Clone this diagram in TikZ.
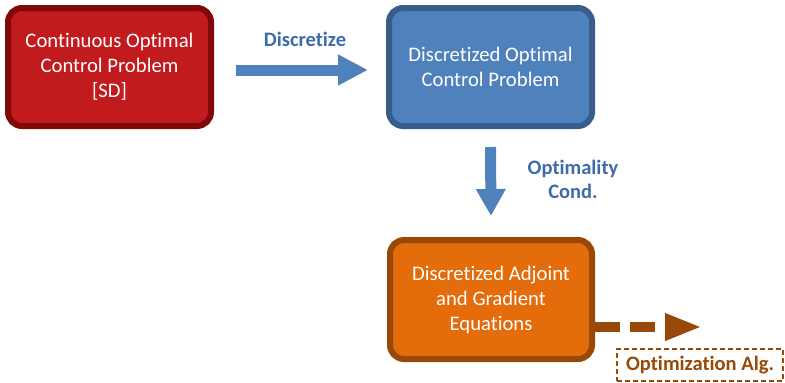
\documentclass[tikz,border=0pt]{standalone}
\usepackage{fontspec}
\setmainfont{Carlito}[Ligatures={NoCommon}]
\usetikzlibrary{arrows.meta}
\definecolor{redfill}{RGB}{194,27,30}
\definecolor{redline}{RGB}{128,8,8}
\definecolor{bluefill}{RGB}{79,129,189}
\definecolor{blueline}{RGB}{56,93,138}
\definecolor{orangefill}{RGB}{228,108,10}
\definecolor{orangeline}{RGB}{152,72,7}
\definecolor{bluetext}{RGB}{62,108,168}
\begin{document}
\begin{tikzpicture}[x=1pt,y=-1pt,
  box/.style={draw, line width=6pt, rounded corners=14pt, text=white, align=center,
    font=\fontsize{20.7}{25}\selectfont, inner sep=0pt},
  lbl/.style={text=bluetext, font=\bfseries\fontsize{20.5}{24}\selectfont, align=center, inner sep=0pt},
  bluearrow/.style={draw=bluefill, line width=11pt},
  brownarrow/.style={draw=orangeline, line width=10pt, dash pattern=on 25pt off 10pt}
]
\useasboundingbox (0,0) rectangle (785,383);
\node[box, fill=redfill, draw=redline, minimum width=203pt, minimum height=118pt] (cont) at (109.5,67)
  {Continuous Optimal\\Control Problem\\{}[SD]};
\node[box, fill=bluefill, draw=blueline, minimum width=203pt, minimum height=118pt] (disc) at (490.5,67)
  {Discretized Optimal\\Control Problem};
\node[box, fill=orangefill, draw=orangeline, minimum width=202pt, minimum height=119pt] (adj) at (491,299.5)
  {Discretized Adjoint\\and Gradient\\Equations};
\node[draw=orangeline, line width=1.8pt, dash pattern=on 5pt off 3pt, text=orangeline,
  font=\bfseries\fontsize{20.5}{24}\selectfont, minimum width=166pt, minimum height=32pt, inner sep=0pt]
  (opt) at (700,365) {Optimization Alg.};
\node[lbl] (l1) at (305,39) {Discretize};
\node[lbl] (l2) at (573,179) {Optimality\\Cond.};
\coordinate (dend) at ([xshift=107pt,yshift=-27.5pt]adj.east);
\draw[bluearrow, -{Triangle[length=30pt,width=29pt]}] ([xshift=22pt,yshift=-3pt]cont.east) -- ([xshift=-18pt,yshift=-3pt]disc.west);
\draw[bluearrow, -{Triangle[length=27pt,width=28pt]}] ([yshift=-18pt]disc.south) -- ([yshift=21pt]adj.north);
\draw[brownarrow, -{Triangle[length=37pt,width=25pt]}] ([yshift=-27.5pt]adj.east) -- (dend);
\end{tikzpicture}
\end{document}
